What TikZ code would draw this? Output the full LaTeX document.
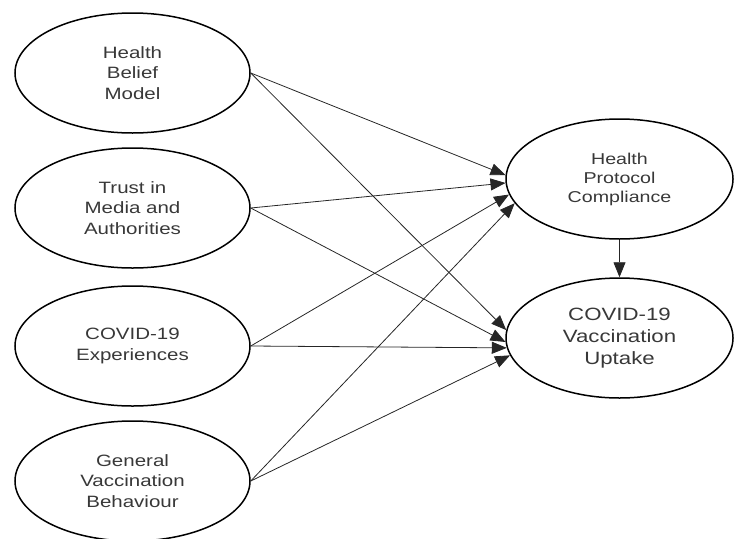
\documentclass[tikz,border=0pt]{standalone}
\usepackage{fontspec}
\setmainfont[FakeStretch=1.25]{Liberation Sans}
\usetikzlibrary{shapes.geometric,arrows.meta}
\begin{document}
\begin{tikzpicture}[x=1pt,y=-1pt,
  oval/.style={ellipse,draw=black,line width=1.5pt,inner sep=0pt,
    text=black!78,align=center},
  leftoval/.style={oval,minimum width=235pt,minimum height=120pt,
    font=\fontsize{16.4}{20.5}\selectfont},
  rightoval/.style={oval,minimum width=227pt,minimum height=120pt},
  arr/.style={draw=black!85,line width=0.8pt,-{Triangle[length=15pt,width=12pt]}}]
\useasboundingbox (0,0) rectangle (735,538);
\node[leftoval] (hbm) at (132.5,73) {Health\\Belief\\Model};
\node[leftoval] (tma) at (132.5,208) {Trust in\\Media and\\Authorities};
\node[leftoval] (cex) at (132.5,346) {COVID-19\\Experiences};
\node[leftoval] (gvb) at (132.5,481) {General\\Vaccination\\Behaviour};
\node[rightoval,font=\fontsize{15.7}{19}\selectfont] (hpc) at (619.5,179) {Health\\Protocol\\Compliance};
\node[rightoval,font=\fontsize{17.8}{22}\selectfont] (cvu) at (619.5,338) {COVID-19\\Vaccination\\Uptake};
\draw[arr] (hbm.east) -- (hpc.178.5);
\draw[arr] (tma.east) -- (hpc.182.5);
\draw[arr] (cex.east) -- (hpc.188);
\draw[arr] (gvb.east) -- (hpc.193);
\draw[arr] (hbm.east) -- (cvu.176.5);
\draw[arr] (tma.east) -- (cvu.182.5);
\draw[arr] (cex.east) -- (cvu.185.6);
\draw[arr] (gvb.east) -- (cvu.189.4);
\draw[arr] (hpc.south) -- (cvu.north);
\end{tikzpicture}
\end{document}
